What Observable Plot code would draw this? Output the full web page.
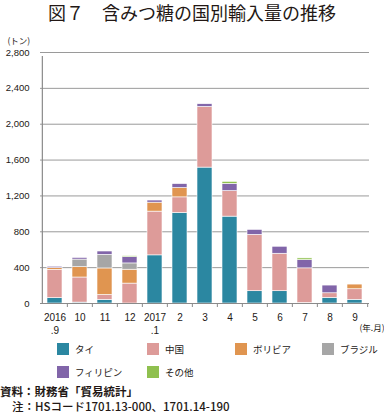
<!DOCTYPE html>
<html><head><meta charset="utf-8">
<script src="https://cdn.jsdelivr.net/npm/d3@7"></script>
<script src="https://cdn.jsdelivr.net/npm/@observablehq/plot@0.6"></script>
<style>
body{margin:0;width:384px;height:414px;overflow:hidden;background:#fff;font-family:"Liberation Sans","Noto Sans CJK JP",sans-serif;color:#231815;}
#title{height:30px;line-height:25px;text-align:center;font-size:18px;font-family:"Noto Sans CJK JP",sans-serif;white-space:nowrap;}
#chart{height:305px;}
#legend{position:relative;height:46px;font-size:9.5px;font-family:"Noto Sans CJK JP",sans-serif;}
.item{position:absolute;display:flex;align-items:center;height:13px;}
.sw{width:12px;height:12px;margin-right:6px;}
#foot{font-family:"Noto Sans CJK JP",sans-serif;font-size:11.5px;line-height:15px;margin-top:3px;white-space:nowrap;}
</style></head>
<body>
<div id="title">図７　含みつ糖の国別輸入量の推移</div>
<div id="chart"></div>
<div id="legend"></div>
<div id="foot"><div style="font-weight:bold">資料：財務省「貿易統計」</div><div style="padding-left:12px;font-weight:500">注：HSコード1701.13-000、1701.14-190</div></div>
<script>
const months = ["2016\n.9","10","11","12","2017\n.1","2","3","4","5","6","7","8","9"];
const series = ["タイ","中国","ボリビア","ブラジル","フィリピン","その他"];
const colors = ["#2b87a1","#dd9b99","#e09550","#a6a6a6","#8165a9","#8fc04f"];
const thai        = [60, 10, 40, 0, 537, 1010, 1516, 969, 137, 137, 5, 63, 41];
const china       = [315, 280, 55, 222, 488, 174, 677, 285, 629, 418, 387, 51, 118];
const bolivia     = [20, 115, 296, 155, 100, 104, 0, 0, 0, 0, 0, 0, 52];
const brazil      = [0, 85, 152, 70, 0, 0, 0, 0, 0, 0, 0, 0, 0];
const philippines = [15, 18, 37, 70, 25, 44, 30, 81, 55, 78, 92, 86, 0];
const others      = [0, 0, 0, 11, 5, 0, 0, 22, 0, 0, 19, 0, 0];
const yTicks = [0, 400, 800, 1200, 1600, 2000, 2400, 2800];

const valuesBySeries = [thai, china, bolivia, brazil, philippines, others];
const data = [];
series.forEach((s, si) => months.forEach((m, mi) => data.push({month: m, series: s, value: valuesBySeries[si][mi]})));

const W = 384, mL = 40, mR = 15;
const step = (W - mL - mR) / months.length;

const chart = Plot.plot({
  width: W, height: 305,
  marginTop: 22, marginBottom: 32, marginLeft: mL, marginRight: mR,
  style: {fontFamily: '"Liberation Sans","Noto Sans CJK JP",sans-serif', fontSize: "10px", color: "#231815", background: "white"},
  x: {domain: months, paddingInner: 0.42, paddingOuter: 0.21, axis: null, label: null},
  y: {domain: [0, 2800], axis: null, label: null},
  color: {domain: series, range: colors},
  marks: [
    Plot.ruleY(yTicks.slice(1), {y: d => d, stroke: "#9a9a9a", strokeWidth: 1}),
    Plot.barY(data, {x: "month", y: "value", fill: "series", order: series, stroke: "#ffffff", strokeWidth: 0.6}),
    Plot.ruleY([0], {stroke: "#8a8a8a", strokeWidth: 1.2}),
    Plot.ruleX([months[0]], {x: d => d, dx: -step / 2, y1: 0, y2: 2800, insetBottom: -4, stroke: "#8a8a8a", strokeWidth: 1.2}),
    Plot.ruleX(months.slice(1), {x: d => d, dx: -step / 2, y1: 0, y2: 0, insetBottom: -4, stroke: "#8a8a8a"}),
    Plot.ruleX([months[months.length - 1]], {x: d => d, dx: step / 2, y1: 0, y2: 0, insetBottom: -4, stroke: "#8a8a8a"}),
    Plot.axisY(yTicks, {tickSize: 0, tickPadding: 11, tickFormat: d3.format(","), fontSize: 9.5, label: null}),
    Plot.axisX({tickSize: 0, tickPadding: 8, lineHeight: 1.3, fontSize: 10, label: null}),
    Plot.text(["(トン)"], {frameAnchor: "top-left", dx: -33, dy: -15, textAnchor: "start", fontSize: 8.5, fontFamily: "Noto Sans CJK JP"}),
    Plot.text(["(年.月)"], {frameAnchor: "bottom-right", dx: 15, dy: 27, textAnchor: "end", fontSize: 8.5, fontFamily: "Noto Sans CJK JP"})
  ]
});
document.getElementById("chart").appendChild(chart);

const legend = document.getElementById("legend");
const colX = [57, 147, 235, 322];
series.forEach((s, i) => {
  const it = document.createElement("div");
  it.className = "item";
  it.style.left = colX[i % 4] + "px";
  it.style.top = (Math.floor(i / 4) * 23.5 + 7) + "px";
  it.innerHTML = `<span class="sw" style="background:${colors[i]}"></span><span>${s}</span>`;
  legend.appendChild(it);
});
</script>
</body></html>
